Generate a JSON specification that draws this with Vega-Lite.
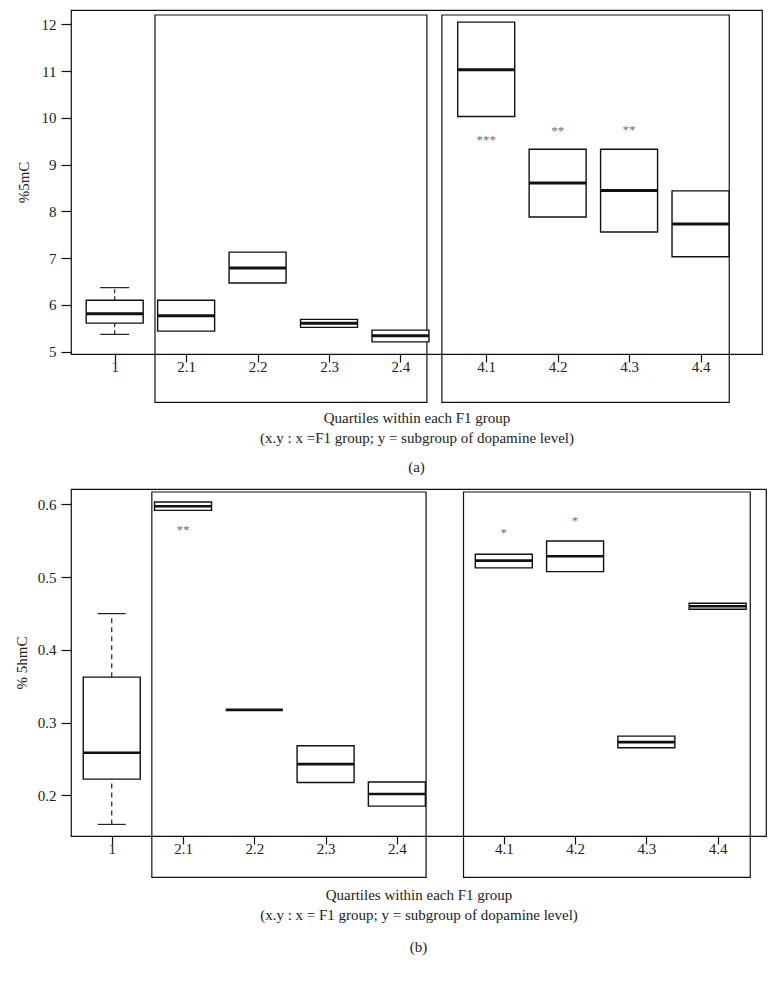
{
  "$schema": "https://vega.github.io/schema/vega-lite/v6.json",
  "padding": {"left": 13, "top": 9, "right": 5, "bottom": 5},
  "background": "white",
  "spacing": 12,
  "datasets": {
    "boxA": [
      {"group": "1", "q1": 5.61, "median": 5.81, "q3": 6.10, "lower": 5.37, "upper": 6.37},
      {"group": "2.1", "q1": 5.44, "median": 5.77, "q3": 6.10},
      {"group": "2.2", "q1": 6.47, "median": 6.79, "q3": 7.13},
      {"group": "2.3", "q1": 5.52, "median": 5.61, "q3": 5.69},
      {"group": "2.4", "q1": 5.21, "median": 5.34, "q3": 5.46},
      {"group": "4.1", "q1": 10.03, "median": 11.03, "q3": 12.05},
      {"group": "4.2", "q1": 7.88, "median": 8.61, "q3": 9.33},
      {"group": "4.3", "q1": 7.56, "median": 8.45, "q3": 9.33},
      {"group": "4.4", "q1": 7.03, "median": 7.73, "q3": 8.44}
    ],
    "starA": [
      {"group": "4.1", "y": 9.52, "label": "***"},
      {"group": "4.2", "y": 9.72, "label": "**"},
      {"group": "4.3", "y": 9.74, "label": "**"}
    ],
    "boxB": [
      {"group": "1", "q1": 0.2225, "median": 0.2586, "q3": 0.3625, "lower": 0.1602, "upper": 0.4498},
      {"group": "2.1", "q1": 0.5917, "median": 0.5973, "q3": 0.6032},
      {"group": "2.2", "q1": 0.3176, "median": 0.3176, "q3": 0.3176},
      {"group": "2.3", "q1": 0.2178, "median": 0.2431, "q3": 0.2682},
      {"group": "2.4", "q1": 0.1854, "median": 0.2019, "q3": 0.2184},
      {"group": "4.1", "q1": 0.5126, "median": 0.5226, "q3": 0.5314},
      {"group": "4.2", "q1": 0.5075, "median": 0.5286, "q3": 0.5496},
      {"group": "4.3", "q1": 0.2655, "median": 0.2733, "q3": 0.2815},
      {"group": "4.4", "q1": 0.4559, "median": 0.4600, "q3": 0.4641}
    ],
    "starB": [
      {"group": "2.1", "y": 0.5644, "label": "**"},
      {"group": "4.1", "y": 0.5607, "label": "*"},
      {"group": "4.2", "y": 0.5776, "label": "*"}
    ]
  },
  "vconcat": [
    {
      "width": 691,
      "height": 344,
      "title": {"text": "(a)", "orient": "bottom", "anchor": "middle", "fontSize": 15, "fontWeight": "normal", "font": "Liberation Serif", "color": "#222", "offset": 15},
      "layer": [
        {
          "data": {"values": [{"from": "a3", "to": "a18", "top": 12.203, "bottom": 3.917}]},
          "mark": {"type": "rect", "fillOpacity": 0, "stroke": "#111", "strokeWidth": 1.2},
          "encoding": {
            "x": {"field": "from", "type": "nominal", "bandPosition": 0.32},
            "x2": {"field": "to", "bandPosition": 0.35},
            "y": {"field": "top", "type": "quantitative"},
            "y2": {"field": "bottom"}
          }
        },
        {
          "data": {"values": [{"from": "a19", "to": "a35", "top": 12.203, "bottom": 3.917}]},
          "mark": {"type": "rect", "fillOpacity": 0, "stroke": "#111", "strokeWidth": 1.2},
          "encoding": {
            "x": {"field": "from", "type": "nominal", "bandPosition": 0.4},
            "x2": {"field": "to", "bandPosition": 0.51},
            "y": {"field": "top", "type": "quantitative"},
            "y2": {"field": "bottom"}
          }
        },
        {
          "data": {"name": "boxA"},
          "transform": [{"filter": "isValid(datum.upper)"}],
          "mark": {"type": "rule", "strokeDash": [4, 3], "color": "#222", "strokeWidth": 1.2},
          "encoding": {
            "x": {"field": "group", "type": "nominal"},
            "y": {"field": "q3", "type": "quantitative"},
            "y2": {"field": "upper"}
          }
        },
        {
          "data": {"name": "boxA"},
          "transform": [{"filter": "isValid(datum.lower)"}],
          "mark": {"type": "rule", "strokeDash": [4, 3], "color": "#222", "strokeWidth": 1.2},
          "encoding": {
            "x": {"field": "group", "type": "nominal"},
            "y": {"field": "lower", "type": "quantitative"},
            "y2": {"field": "q1"}
          }
        },
        {
          "data": {"name": "boxA"},
          "transform": [{"filter": "isValid(datum.upper)"}],
          "mark": {"type": "tick", "size": 29, "thickness": 1.2, "color": "#222", "opacity": 1},
          "encoding": {
            "x": {"field": "group", "type": "nominal"},
            "y": {"field": "upper", "type": "quantitative"}
          }
        },
        {
          "data": {"name": "boxA"},
          "transform": [{"filter": "isValid(datum.lower)"}],
          "mark": {"type": "tick", "size": 29, "thickness": 1.2, "color": "#222", "opacity": 1},
          "encoding": {
            "x": {"field": "group", "type": "nominal"},
            "y": {"field": "lower", "type": "quantitative"}
          }
        },
        {
          "data": {"name": "boxA"},
          "mark": {"type": "bar", "size": 57, "fill": "white", "stroke": "#111", "strokeWidth": 1.4, "opacity": 1},
          "encoding": {
            "x": {
              "field": "group",
              "type": "nominal",
              "scale": {
                "type": "band",
                "domain": ["p1","p2","1","a1","a2","a3","a4","2.1","a5","a6","a7","a8","2.2","a9","a10","a11","a12","2.3","a13","a14","a15","a16","2.4","a17","a18","a19","a20","a21","4.1","a22","a23","a24","a25","4.2","a26","a27","a28","a29","4.3","a30","a31","a32","a33","4.4","a34","a35","a36"],
                "paddingInner": 0,
                "paddingOuter": 0.68,
                "align": 0.41,
                "round": false
              },
              "axis": {
                "values": ["1","2.1","2.2","2.3","2.4","4.1","4.2","4.3","4.4"],
                "bandPosition": 0.5,
                "tickBand": "center",
                "tickOffset": 0,
                "labelOffset": 0,
                "labelAngle": 0,
                "labelAlign": "center",
                "labelOverlap": false,
                "labelPadding": 4,
                "tickSize": 8,
                "title": ["Quartiles within each F1 group", "(x.y : x =F1 group; y = subgroup of dopamine level)"],
                "titlePadding": 36,
                "titleLineHeight": 20
              }
            },
            "y": {
              "field": "q1",
              "type": "quantitative",
              "scale": {"domain": [4.95, 12.31], "zero": false, "nice": false},
              "axis": {"values": [5, 6, 7, 8, 9, 10, 11, 12], "title": "%5mC", "titlePadding": 10, "tickSize": 10, "labelPadding": 5}
            },
            "y2": {"field": "q3"}
          }
        },
        {
          "data": {"name": "boxA"},
          "mark": {"type": "tick", "size": 57, "thickness": 3, "color": "#111", "opacity": 1},
          "encoding": {
            "x": {"field": "group", "type": "nominal"},
            "y": {"field": "median", "type": "quantitative"}
          }
        },
        {
          "data": {"name": "starA"},
          "mark": {"type": "text", "color": "#6f6f6f", "fontSize": 13, "font": "Liberation Serif", "baseline": "middle"},
          "encoding": {
            "x": {"field": "group", "type": "nominal"},
            "y": {"field": "y", "type": "quantitative"},
            "text": {"field": "label"}
          }
        }
      ]
    },
    {
      "width": 695,
      "height": 347,
      "title": {"text": "(b)", "orient": "bottom", "anchor": "middle", "fontSize": 15, "fontWeight": "normal", "font": "Liberation Serif", "color": "#222", "offset": 18},
      "layer": [
        {
          "data": {"values": [{"from": "b2", "to": "b14", "top": 0.6169, "bottom": 0.0874}]},
          "mark": {"type": "rect", "fillOpacity": 0, "stroke": "#111", "strokeWidth": 1.2},
          "encoding": {
            "x": {"field": "from", "type": "nominal", "bandPosition": 0.75},
            "x2": {"field": "to", "bandPosition": 0.14},
            "y": {"field": "top", "type": "quantitative"},
            "y2": {"field": "bottom"}
          }
        },
        {
          "data": {"values": [{"from": "b16", "to": "b28", "top": 0.6169, "bottom": 0.0874}]},
          "mark": {"type": "rect", "fillOpacity": 0, "stroke": "#111", "strokeWidth": 1.2},
          "encoding": {
            "x": {"field": "from", "type": "nominal", "bandPosition": 0.24},
            "x2": {"field": "to", "bandPosition": 0.33},
            "y": {"field": "top", "type": "quantitative"},
            "y2": {"field": "bottom"}
          }
        },
        {
          "data": {"name": "boxB"},
          "transform": [{"filter": "isValid(datum.upper)"}],
          "mark": {"type": "rule", "strokeDash": [5, 4], "color": "#222", "strokeWidth": 1.2},
          "encoding": {
            "x": {"field": "group", "type": "nominal"},
            "y": {"field": "q3", "type": "quantitative"},
            "y2": {"field": "upper"}
          }
        },
        {
          "data": {"name": "boxB"},
          "transform": [{"filter": "isValid(datum.lower)"}],
          "mark": {"type": "rule", "strokeDash": [5, 4], "color": "#222", "strokeWidth": 1.2},
          "encoding": {
            "x": {"field": "group", "type": "nominal"},
            "y": {"field": "lower", "type": "quantitative"},
            "y2": {"field": "q1"}
          }
        },
        {
          "data": {"name": "boxB"},
          "transform": [{"filter": "isValid(datum.upper)"}],
          "mark": {"type": "tick", "size": 28, "thickness": 1.2, "color": "#222", "opacity": 1},
          "encoding": {
            "x": {"field": "group", "type": "nominal"},
            "y": {"field": "upper", "type": "quantitative"}
          }
        },
        {
          "data": {"name": "boxB"},
          "transform": [{"filter": "isValid(datum.lower)"}],
          "mark": {"type": "tick", "size": 28, "thickness": 1.2, "color": "#222", "opacity": 1},
          "encoding": {
            "x": {"field": "group", "type": "nominal"},
            "y": {"field": "lower", "type": "quantitative"}
          }
        },
        {
          "data": {"name": "boxB"},
          "mark": {"type": "bar", "size": 57, "fill": "white", "stroke": "#111", "strokeWidth": 1.4, "opacity": 1},
          "encoding": {
            "x": {
              "field": "group",
              "type": "nominal",
              "scale": {
                "type": "band",
                "domain": ["1","b1","b2","b3","2.1","b4","b5","b6","2.2","b7","b8","b9","2.3","b10","b11","b12","2.4","b13","b14","b15","b16","b17","4.1","b18","b19","b20","4.2","b21","b22","b23","4.3","b24","b25","b26","4.4","b27","b28"],
                "paddingInner": 0,
                "paddingOuter": 1,
                "align": 0.893,
                "round": false
              },
              "axis": {
                "values": ["1","2.1","2.2","2.3","2.4","4.1","4.2","4.3","4.4"],
                "bandPosition": 0.5,
                "tickBand": "center",
                "tickOffset": 0,
                "labelOffset": 0,
                "labelAngle": 0,
                "labelAlign": "center",
                "labelOverlap": false,
                "labelPadding": 4,
                "tickSize": 8,
                "title": ["Quartiles within each F1 group", "(x.y : x = F1 group; y = subgroup of dopamine level)"],
                "titlePadding": 31,
                "titleLineHeight": 20
              }
            },
            "y": {
              "field": "q1",
              "type": "quantitative",
              "scale": {"domain": [0.1443, 0.621], "zero": false, "nice": false},
              "axis": {"values": [0.2, 0.3, 0.4, 0.5, 0.6], "format": ".1f", "title": "% 5hmC", "titlePadding": 8, "tickSize": 10, "labelPadding": 5}
            },
            "y2": {"field": "q3"}
          }
        },
        {
          "data": {"name": "boxB"},
          "mark": {"type": "tick", "size": 57, "thickness": 2.6, "color": "#111", "opacity": 1},
          "encoding": {
            "x": {"field": "group", "type": "nominal"},
            "y": {"field": "median", "type": "quantitative"}
          }
        },
        {
          "data": {"name": "starB"},
          "mark": {"type": "text", "color": "#6f6f6f", "fontSize": 13, "font": "Liberation Serif", "baseline": "middle"},
          "encoding": {
            "x": {"field": "group", "type": "nominal"},
            "y": {"field": "y", "type": "quantitative"},
            "text": {"field": "label"}
          }
        }
      ]
    }
  ],
  "config": {
    "view": {"stroke": "#111", "strokeWidth": 1.2},
    "font": "Liberation Serif",
    "axis": {
      "domain": false,
      "grid": false,
      "tickColor": "#111",
      "tickWidth": 1.2,
      "labelFont": "Liberation Serif",
      "labelFontSize": 15,
      "labelColor": "#222",
      "titleFont": "Liberation Serif",
      "titleFontSize": 15,
      "titleFontWeight": "normal",
      "titleColor": "#222"
    }
  }
}
